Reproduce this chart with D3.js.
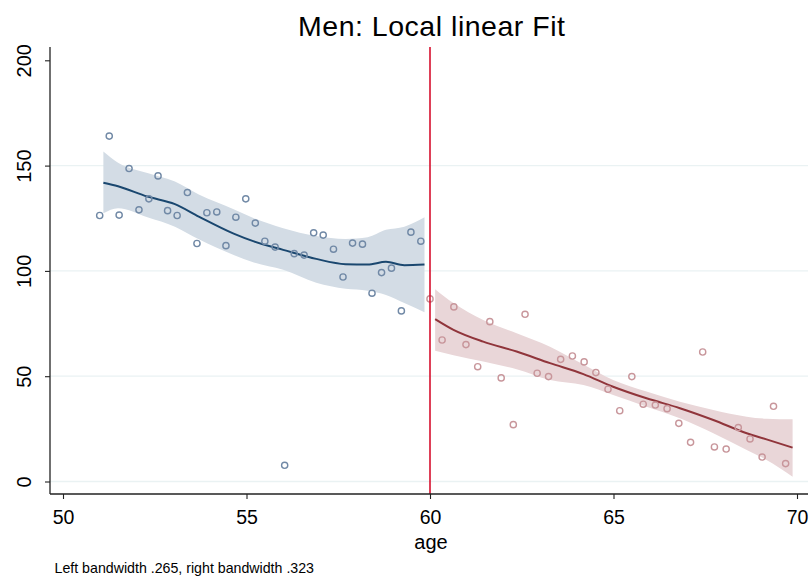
<!DOCTYPE html>
<html><head><meta charset="utf-8">
<script src="https://cdn.jsdelivr.net/npm/d3@7/dist/d3.min.js"></script>
<style>body{margin:0;background:#fff}svg{display:block;font-family:"Liberation Sans",Arial,Helvetica,sans-serif}</style>
</head><body><svg id="c" width="811" height="577"></svg>
<script>
// ---- data ----
const leftAge = [51.0,51.26,51.53,51.80,52.07,52.34,52.59,52.85,53.11,53.39,53.65,53.92,54.19,54.44,54.71,54.98,55.24,55.50,55.78,56.04,56.30,56.57,56.83,57.09,57.37,57.63,57.89,58.16,58.42,58.68,58.95,59.22,59.48,59.75];
const leftVal = [126.3,164.0,126.5,148.6,129.0,134.2,145.1,128.6,126.3,137.2,113.0,127.6,128.0,112.0,125.5,134.2,122.7,114.1,111.3,7.7,108.2,107.5,118.1,117.0,110.3,97.1,113.2,112.7,89.4,99.2,101.3,81.0,118.4,114.1];
const rightAge = [60.0,60.33,60.65,60.98,61.30,61.63,61.94,62.27,62.59,62.92,63.23,63.56,63.88,64.20,64.52,64.85,65.17,65.50,65.81,66.14,66.46,66.78,67.10,67.43,67.75,68.07,68.40,68.72,69.05,69.36,69.69];
const rightVal = [86.7,67.2,82.9,65.0,54.5,75.9,49.2,27.0,79.4,51.4,49.8,58.0,59.6,56.8,51.7,43.8,33.6,49.8,36.7,36.3,34.6,27.6,18.6,61.5,16.4,15.4,25.6,20.2,11.6,35.7,8.5];
const leftFitX = [51.1,51.5,52.3,53.05,53.7,54.65,55.2,56.0,56.9,57.7,58.3,58.8,59.3,59.85];
const leftFit  = [141.9,140.2,135.3,131.7,125.8,117.7,114.0,110.0,105.7,103.2,103.0,104.3,102.7,103.0];
const leftHi   = [156.7,151.4,146.5,142.4,136.3,129.3,125.0,120.3,116.6,115.2,116.0,119.5,121.0,125.5];
const leftLo   = [127.4,129.8,125.5,121.0,115.0,107.6,104.0,100.5,94.4,91.5,90.6,88.6,84.7,80.4];
const rightFitX = [60.14,60.64,61.45,62.36,63.27,64.18,64.99,65.9,66.81,67.72,68.63,69.17,69.88];
const rightFit  = [77.1,72.0,66.4,61.7,56.2,51.0,45.0,39.5,34.8,29.2,22.9,20.0,16.1];
const rightHi   = [91.3,84.7,76.7,70.4,64.0,55.5,48.2,42.7,37.9,34.0,30.8,29.8,29.5];
const rightLo   = [62.1,60.0,57.0,53.3,48.2,45.8,41.1,35.5,30.0,22.9,15.0,10.2,2.3];
const xTicks = [50,55,60,65,70];
const yTicks = [0,50,100,150,200];
const yGrid = [0,50,100,150];
const cutoff = 60;
const titleText = "Men: Local linear Fit";
const xLabel = "age";
const noteText = "Left bandwidth .265, right bandwidth .323";

// ---- layout ----
const L = 50, R = 808, T = 47, B = 494;
const x = d3.scaleLinear().domain([50,70]).range([63,797]);
const y = d3.scaleLinear().domain([0,200]).range([481.5,60.3]);
const svg = d3.select("#c");

// grid
svg.append("g").selectAll("line").data(yGrid).join("line")
  .attr("x1",L).attr("x2",R).attr("y1",d=>y(d)).attr("y2",d=>y(d))
  .attr("stroke","#eaf2f3").attr("stroke-width",1.3);

function band(xs,hi,lo,fill){
  const pts = xs.map((d,i)=>({x:d,hi:hi[i],lo:lo[i]}));
  svg.append("path").datum(pts)
    .attr("d", d3.area().x(d=>x(d.x)).y0(d=>y(d.lo)).y1(d=>y(d.hi)).curve(d3.curveMonotoneX))
    .attr("fill",fill).attr("stroke","none");
}
function fit(xs,ys,col){
  svg.append("path").datum(xs.map((d,i)=>[d,ys[i]]))
    .attr("d", d3.line().x(d=>x(d[0])).y(d=>y(d[1])).curve(d3.curveMonotoneX))
    .attr("fill","none").attr("stroke",col).attr("stroke-width",2);
}
function pts(xs,ys,col){
  svg.append("g").selectAll("circle").data(xs.map((d,i)=>[d,ys[i]])).join("circle")
    .attr("cx",d=>x(d[0])).attr("cy",d=>y(d[1])).attr("r",3.1)
    .attr("fill","none").attr("stroke",col).attr("stroke-width",1.4);
}
band(leftFitX,leftHi,leftLo,"#d3dce5");
band(rightFitX,rightHi,rightLo,"#e9d6d8");
fit(leftFitX,leftFit,"#1a476f");
fit(rightFitX,rightFit,"#90353b");
pts(leftAge,leftVal,"#7189a6");
pts(rightAge,rightVal,"#c8969b");

// cutoff line
svg.append("line").attr("x1",x(cutoff)).attr("x2",x(cutoff)).attr("y1",T).attr("y2",B)
  .attr("stroke","#d6102e").attr("stroke-width",1.6);

// axes
const ax = svg.append("g").attr("transform",`translate(0,${B})`)
  .call(d3.axisBottom(x).tickValues(xTicks).tickSize(5).tickPadding(11).tickFormat(d3.format("d")));
ax.select(".domain").remove();
ax.append("line").attr("x1",L).attr("x2",R).attr("stroke","#222").attr("stroke-width",1.3);
ax.selectAll(".tick line").attr("stroke","#222").attr("stroke-width",1.1);
ax.selectAll(".tick text").attr("font-size",19.5).attr("fill","#000").attr("font-family","Liberation Sans, Arial, sans-serif");

const ay = svg.append("g").attr("transform",`translate(${L},0)`)
  .call(d3.axisLeft(y).tickValues(yTicks).tickSize(5).tickFormat(d3.format("d")));
ay.select(".domain").remove();
ay.append("line").attr("y1",T).attr("y2",B).attr("stroke","#222").attr("stroke-width",1.3);
ay.selectAll(".tick line").attr("stroke","#222").attr("stroke-width",1.1);
ay.selectAll(".tick text").attr("font-size",20).attr("fill","#000")
  .attr("font-family","Liberation Sans, Arial, sans-serif")
  .attr("x",0).attr("y",0).attr("dy",0)
  .attr("text-anchor","middle")
  .attr("transform","translate(-19,0) rotate(-90)");

// title, labels, note
svg.append("text").attr("x",431.5).attr("y",36).attr("text-anchor","middle")
  .attr("font-size",28.5).attr("textLength",267).attr("lengthAdjust","spacing")
  .attr("fill","#000").text(titleText);
svg.append("text").attr("x",431).attr("y",549).attr("text-anchor","middle")
  .attr("font-size",20).attr("fill","#000").text(xLabel);
svg.append("text").attr("x",54.5).attr("y",573).attr("font-size",14.2).attr("fill","#000").text(noteText);
</script></body></html>
